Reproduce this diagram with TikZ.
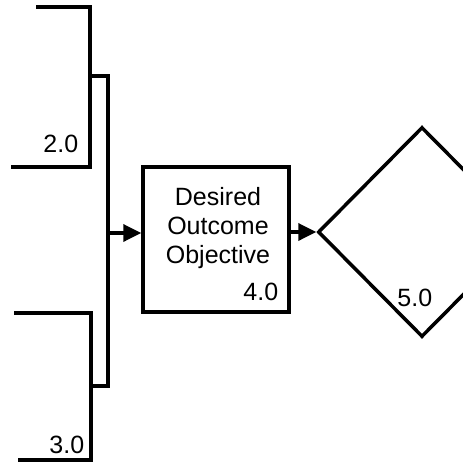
\documentclass[tikz,border=0pt]{standalone}
\usepackage{fontspec}
\setmainfont{Liberation Sans}
\usetikzlibrary{shapes.geometric, arrows.meta}

\begin{document}
\begin{tikzpicture}[x=1pt, y=-1pt, line width=3.5pt,
  lbl/.style={anchor=base east, inner sep=0pt, font=\fontsize{25}{29}\selectfont},
  flow/.style={-{Triangle[length=18pt, width=17pt]}}]
  \useasboundingbox (0,0) rectangle (463,464);
  \clip (0,0) rectangle (463,464);

  % edges of the blocks 2.0 and 3.0
  \coordinate (Ta) at (36,7);
  \coordinate (Tb) at (90,7);
  \coordinate (Tc) at (90,167);
  \coordinate (Td) at (11,167);
  \coordinate (Ua) at (14,313);
  \coordinate (Ub) at (91,313);
  \coordinate (Uc) at (91,460);
  \coordinate (Ud) at (18,460);

  \draw (Ta)--(Tb)--(Tc)--(Td);
  \draw (Ua)--(Ub)--(Uc)--(Ud);

  % joining bar
  \coordinate (J1) at (90,76);
  \coordinate (J2) at (108,76);
  \coordinate (J3) at (108,386);
  \coordinate (J4) at (91,386);
  \coordinate (bus) at (108,233);
  \draw (J1)--(J2)--(J3)--(J4);

  % objective box and decision
  \node[draw, minimum width=146pt, minimum height=145pt, inner sep=0pt] (obj) at (216,239.5) {};
  \node[align=center, inner sep=0pt, font=\fontsize{25}{29}\selectfont] (objtxt) at (218,228) {Desired\\Outcome\\Objective};
  \node[draw, diamond, minimum width=208pt, minimum height=210pt, inner sep=0pt] (dec) at (422,232) {};

  \draw[flow] (bus) -- (obj.west |- bus);
  \draw[flow] (obj.east |- dec.west) -- (dec.west);

  \node[lbl] (l2) at (80,152) {2.0};
  \node[lbl] (l3) at (86,453) {3.0};
  \node[lbl] (l4) at (280,300) {4.0};
  \node[lbl] (l5) at (434,306) {5.0};
\end{tikzpicture}
\end{document}
